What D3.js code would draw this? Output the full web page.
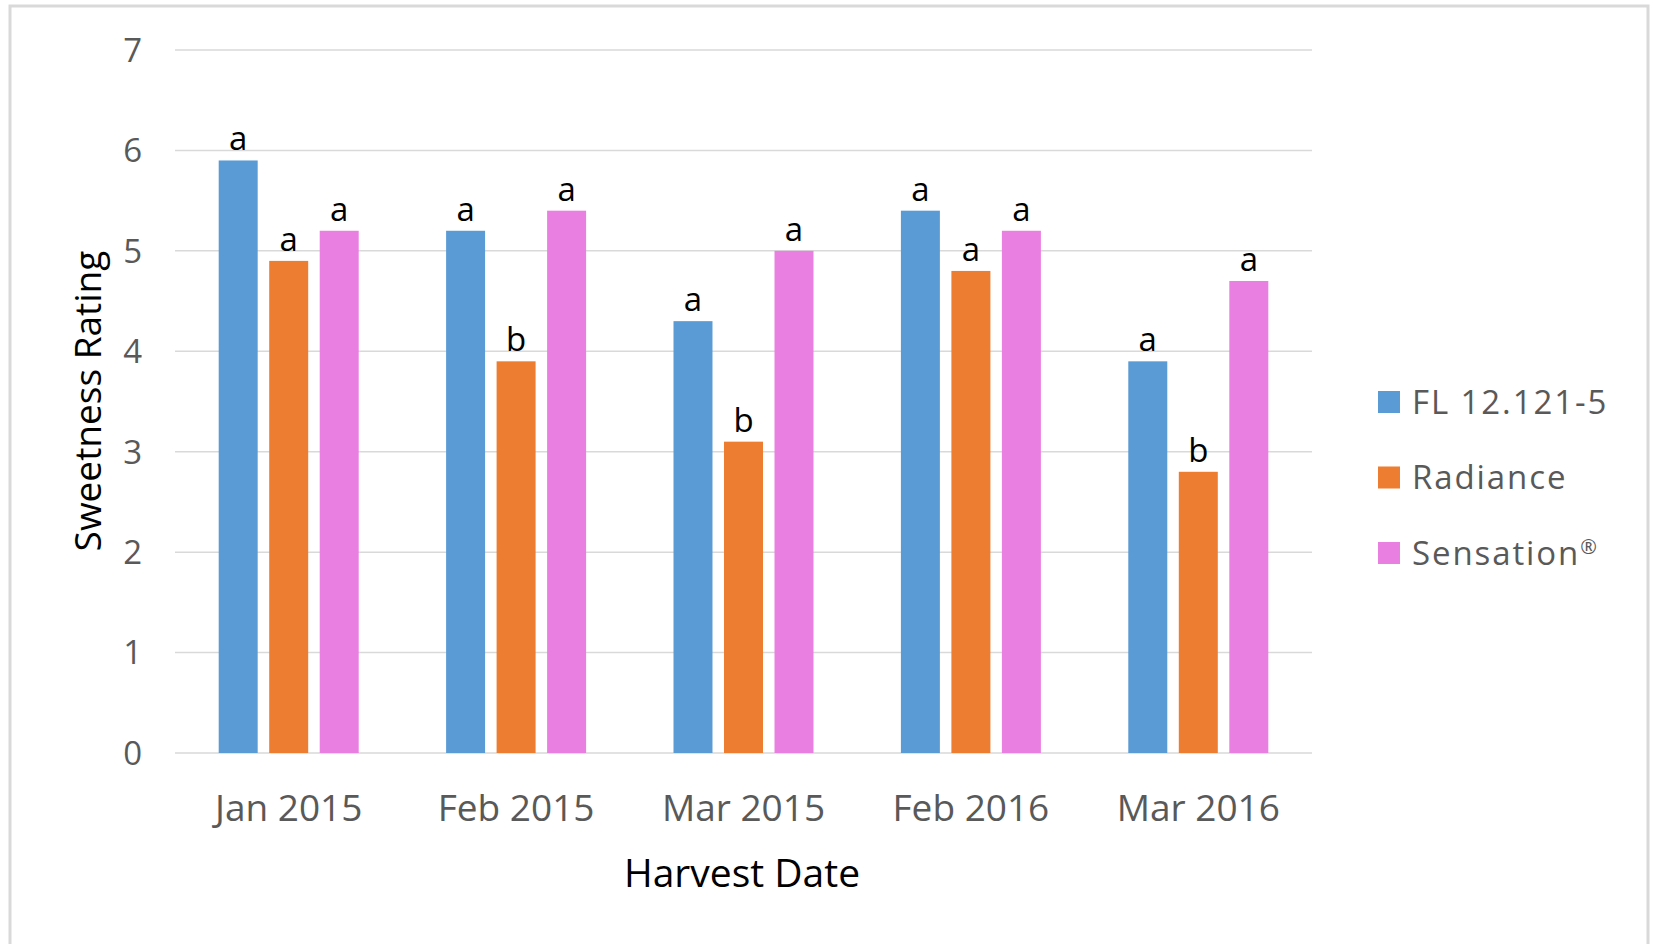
<!doctype html>
<html>
<head>
<meta charset="utf-8">
<script src="https://cdnjs.cloudflare.com/ajax/libs/d3/7.8.5/d3.min.js"></script>
<style>
  body { margin: 0; background: #fff; }
  svg { display: block; font-family: "Open Sans", sans-serif; }
</style>
</head>
<body>
<svg id="chart" width="1653" height="944"></svg>
<script>
// data
var dates = ["Jan 2015", "Feb 2015", "Mar 2015", "Feb 2016", "Mar 2016"];
var series = ["FL 12.121-5", "Radiance", "Sensation"];
var seriesMark = ["", "", "\u00AE"];
var fl = [5.9, 5.2, 4.3, 5.4, 3.9];
var radiance = [4.9, 3.9, 3.1, 4.8, 2.8];
var sensation = [5.2, 5.4, 5.0, 5.2, 4.7];
var flLetters = ["a", "a", "a", "a", "a"];
var radianceLetters = ["a", "b", "b", "a", "b"];
var sensationLetters = ["a", "a", "a", "a", "a"];
var yTicks = [0, 1, 2, 3, 4, 5, 6, 7];

var colors = ["#5b9bd5", "#ed7d31", "#ea7fe2"];
var values = [fl, radiance, sensation];
var letters = [flLetters, radianceLetters, sensationLetters];

var svg = d3.select("#chart");

// outer frame
svg.append("rect").attr("x", 10).attr("y", 6).attr("width", 1638).attr("height", 960)
  .attr("fill", "none").attr("stroke", "#d9d9d9").attr("stroke-width", 3);

var x0 = d3.scaleBand().domain(dates).range([175, 1312]);
var groupW = 140;
var x1 = d3.scaleBand().domain(series).range([0, groupW]).paddingInner(0.228);
var y = d3.scaleLinear().domain([0, 7]).range([753, 50]);

// gridlines
svg.append("g").selectAll("line").data(yTicks).enter().append("line")
  .attr("x1", 175).attr("x2", 1312)
  .attr("y1", d => y(d)).attr("y2", d => y(d))
  .attr("stroke", "#d9d9d9").attr("stroke-width", 1.5);

// y tick labels
svg.append("g").selectAll("text").data(yTicks).enter().append("text")
  .attr("x", 142).attr("y", d => y(d)).attr("dy", "0.36em")
  .attr("text-anchor", "end").attr("fill", "#595959").style("font-size", "33px")
  .text(d => d);

// bars
var bars = [];
series.forEach((s, i) => {
  dates.forEach((dt, j) => {
    bars.push({ s: s, i: i, date: dt, v: values[i][j], l: letters[i][j] });
  });
});
var off = (x0.bandwidth() - groupW) / 2;

svg.append("g").selectAll("rect").data(bars).enter().append("rect")
  .attr("x", d => x0(d.date) + off + x1(d.s))
  .attr("y", d => y(d.v))
  .attr("width", x1.bandwidth())
  .attr("height", d => y(0) - y(d.v))
  .attr("fill", d => colors[d.i]);

// significance letters
svg.append("g").selectAll("text").data(bars).enter().append("text")
  .attr("x", d => x0(d.date) + off + x1(d.s) + x1.bandwidth() / 2)
  .attr("y", d => y(d.v) - 10)
  .attr("text-anchor", "middle").attr("fill", "#000").style("font-size", "33px")
  .text(d => d.l);

// x tick labels
svg.append("g").selectAll("text").data(dates).enter().append("text")
  .attr("x", d => x0(d) + x0.bandwidth() / 2).attr("y", 821)
  .attr("text-anchor", "middle").attr("fill", "#595959").style("font-size", "37px")
  .text(d => d);

// axis titles
svg.append("text").attr("x", 742).attr("y", 887).attr("text-anchor", "middle")
  .attr("fill", "#000").style("font-size", "39px").text("Harvest Date");
svg.append("text").attr("transform", "translate(101,401) rotate(-90)")
  .attr("text-anchor", "middle").attr("fill", "#000").style("font-size", "37px")
  .text("Sweetness Rating");

// legend
var leg = svg.append("g").selectAll("g").data(series).enter().append("g")
  .attr("transform", (d, i) => "translate(1378," + (391 + i * 75.5) + ")");
leg.append("rect").attr("width", 22).attr("height", 22).attr("fill", (d, i) => colors[i]);
var lt = leg.append("text").attr("x", 34).attr("y", 11).attr("dy", "0.36em")
  .attr("fill", "#595959").style("font-size", "33px").style("letter-spacing", "1.9px");
lt.append("tspan").text(d => d);
lt.append("tspan").attr("dy", "-0.55em").style("font-size", "20px")
  .text((d, i) => seriesMark[i]);
</script>
</body>
</html>
